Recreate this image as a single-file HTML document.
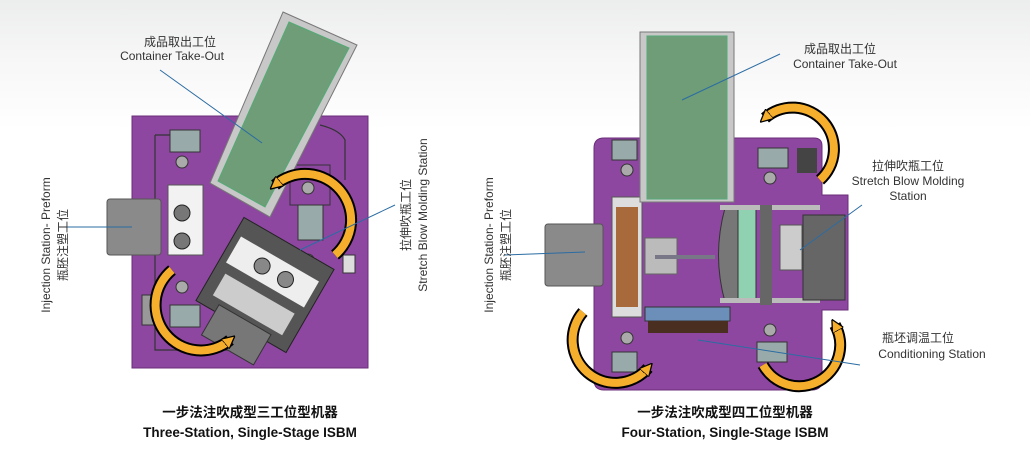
<!DOCTYPE html>
<html><head><meta charset="utf-8"><style>
html,body{margin:0;padding:0}
body{width:1030px;height:471px;overflow:hidden;background:linear-gradient(#eceded 0px,#f7f7f7 60px,#fff 130px,#fff 471px);font-family:"Liberation Sans","Noto Sans CJK SC",sans-serif}
svg{position:absolute;left:0;top:0}
</style></head><body>
<svg width="1030" height="471" viewBox="0 0 1030 471" font-family="Liberation Sans, Noto Sans CJK SC, sans-serif">
<defs>
<marker id="ah" viewBox="0 0 10 10" refX="5" refY="5" markerWidth="1.6" markerHeight="1.6" orient="auto"><path d="M0,0 L10,5 L0,10 z" fill="#f6ae2d" stroke="#000" stroke-width="1"/></marker>
</defs>
<!-- LEFT MACHINE -->
<rect x="132" y="116" width="236" height="252" fill="#8e47a0" stroke="#6a2e7a"/>
<path d="M155,135 H200 M320,125 Q340,130 345,140 V180 M155,135 V350 H235" fill="none" stroke="#333" stroke-width="1.2"/>
<rect x="290" y="165" width="40" height="40" fill="none" stroke="#333"/>
<rect x="170" y="130" width="30" height="22" fill="#9aa" stroke="#333"/>
<rect x="298" y="205" width="25" height="35" fill="#9aa" stroke="#333"/>
<rect x="170" y="305" width="30" height="22" fill="#9aa" stroke="#333"/>
<rect x="142" y="295" width="12" height="30" fill="#999" stroke="#333"/>
<rect x="343" y="255" width="12" height="18" fill="#ddd" stroke="#333"/>
<circle cx="182" cy="162" r="6" fill="#aaa" stroke="#333"/>
<circle cx="308" cy="188" r="6" fill="#aaa" stroke="#333"/>
<circle cx="308" cy="260" r="6" fill="#aaa" stroke="#333"/>
<circle cx="182" cy="287" r="6" fill="#aaa" stroke="#333"/>
<rect x="168" y="185" width="35" height="70" fill="#f2f2f2" stroke="#555"/>
<circle cx="182" cy="213" r="8" fill="#777" stroke="#222"/>
<circle cx="182" cy="241" r="8" fill="#777" stroke="#222"/>
<rect x="107" y="199" width="54" height="56" rx="3" fill="#8a8a8a" stroke="#555"/>
<!-- rotated press -->
<g transform="translate(265,285) rotate(30)">
<rect x="-52" y="-48" width="104" height="96" fill="#555" stroke="#222"/>
<rect x="-45" y="-30" width="90" height="30" fill="#eee"/>
<circle cx="-12" cy="-15" r="8" fill="#888" stroke="#222"/>
<circle cx="15" cy="-15" r="8" fill="#888" stroke="#222"/>
<rect x="-40" y="10" width="80" height="25" fill="#ccc"/>
<rect x="-30" y="40" width="60" height="35" fill="#777" stroke="#333"/>
</g>
<!-- conveyor -->
<polygon points="283,12 357,45 270,217 210,183" fill="#c8c8c8" stroke="#777"/>
<polygon points="289,22 349,48 265,207 218,181" fill="#6e9d77" stroke="#5a7"/>
<!-- arrows -->
<g fill="none" stroke-linecap="butt">
<path d="M335,255 A38,38 0 0 0 275,185" stroke="#000" stroke-width="12"/>
<path d="M335,255 A38,38 0 0 0 275,185" stroke="#f6ae2d" stroke-width="8" marker-end="url(#ah)"/>
<path d="M172,270 A45,45 0 0 0 230,340" stroke="#000" stroke-width="12"/>
<path d="M172,270 A45,45 0 0 0 230,340" stroke="#f6ae2d" stroke-width="8" marker-end="url(#ah)"/>
</g>
<!-- leader lines -->
<g stroke="#2b6ca3" stroke-width="1">
<line x1="160" y1="70" x2="262" y2="143"/>
<line x1="65" y1="227" x2="132" y2="227"/>
<line x1="395" y1="205" x2="300" y2="250"/>
</g>
<!-- RIGHT MACHINE -->
<path d="M604,138 H814 Q822,138 822,146 V195 H848 V310 H822 V380 Q822,390 812,390 H604 Q594,390 594,380 V148 Q594,138 604,138 Z" fill="#8e47a0" stroke="#6a2e7a"/>
<rect x="612" y="140" width="25" height="20" fill="#9aa" stroke="#333"/>
<rect x="758" y="148" width="30" height="20" fill="#9aa" stroke="#333"/>
<rect x="797" y="148" width="20" height="25" fill="#444"/>
<rect x="612" y="352" width="25" height="20" fill="#9aa" stroke="#333"/>
<rect x="757" y="342" width="30" height="20" fill="#9aa" stroke="#333"/>
<circle cx="627" cy="170" r="6" fill="#aaa" stroke="#333"/>
<circle cx="770" cy="178" r="6" fill="#aaa" stroke="#333"/>
<circle cx="627" cy="338" r="6" fill="#aaa" stroke="#333"/>
<circle cx="770" cy="330" r="6" fill="#aaa" stroke="#333"/>
<rect x="612" y="197" width="30" height="120" fill="#ddd" stroke="#555"/>
<rect x="616" y="207" width="22" height="100" fill="#a86a3a"/>
<rect x="645" y="238" width="32" height="36" fill="#bbb" stroke="#666"/>
<line x1="655" y1="257" x2="715" y2="257" stroke="#778" stroke-width="4"/>
<rect x="645" y="307" width="85" height="14" fill="#6b8fb8" stroke="#333"/>
<rect x="648" y="321" width="80" height="12" fill="#4a2f20"/>
<path d="M725,208 Q712,255 725,302 H742 V208 Z" fill="#777" stroke="#333"/>
<rect x="738" y="208" width="18" height="92" fill="#8fd1b0" stroke="#333"/>
<rect x="720" y="205" width="100" height="5" fill="#bbb"/>
<rect x="720" y="298" width="100" height="5" fill="#bbb"/>
<rect x="760" y="205" width="12" height="100" fill="#666"/>
<rect x="780" y="225" width="22" height="45" fill="#ccc" stroke="#555"/>
<rect x="803" y="215" width="42" height="85" fill="#666" stroke="#333"/>
<rect x="545" y="224" width="58" height="62" rx="3" fill="#8a8a8a" stroke="#555"/>
<!-- conveyor -->
<rect x="640" y="32" width="94" height="170" fill="#c8c8c8" stroke="#777"/>
<rect x="647" y="36" width="80" height="163" fill="#6e9d77" stroke="#5a7"/>
<!-- arrows -->
<g fill="none">
<path d="M820,180 A33,33 0 0 0 765,118" stroke="#000" stroke-width="12"/>
<path d="M820,180 A33,33 0 0 0 765,118" stroke="#f6ae2d" stroke-width="8" marker-end="url(#ah)"/>
<path d="M583,312 A40,40 0 0 0 648,368" stroke="#000" stroke-width="12"/>
<path d="M583,312 A40,40 0 0 0 648,368" stroke="#f6ae2d" stroke-width="8" marker-end="url(#ah)"/>
<path d="M763,365 A38,38 0 0 0 835,325" stroke="#000" stroke-width="12"/>
<path d="M763,365 A38,38 0 0 0 835,325" stroke="#f6ae2d" stroke-width="8" marker-end="url(#ah)"/>
</g>
<g stroke="#2b6ca3" stroke-width="1">
<line x1="780" y1="54" x2="682" y2="100"/>
<line x1="505" y1="255" x2="585" y2="252"/>
<line x1="862" y1="205" x2="800" y2="250"/>
<line x1="698" y1="340" x2="860" y2="365"/>
</g>
<!-- texts -->
<g font-size="12" fill="#333" text-anchor="middle">
<text x="180" y="46">成品取出工位</text>
<text x="172" y="60">Container Take-Out</text>
<text x="840" y="53">成品取出工位</text>
<text x="845" y="68">Container Take-Out</text>
<text x="908" y="170">拉伸吹瓶工位</text>
<text x="908" y="185">Stretch Blow Molding</text>
<text x="908" y="200">Station</text>
<text x="918" y="342">瓶坯调温工位</text>
<text x="932" y="358">Conditioning Station</text>
<g transform="translate(50,245) rotate(-90)"><text>Injection Station- Preform</text></g>
<g transform="translate(67,245) rotate(-90)"><text>瓶胚注塑工位</text></g>
<g transform="translate(410,215) rotate(-90)"><text>拉伸吹瓶工位</text></g>
<g transform="translate(427,215) rotate(-90)"><text>Stretch Blow Molding Station</text></g>
<g transform="translate(493,245) rotate(-90)"><text>Injection Station- Preform</text></g>
<g transform="translate(510,245) rotate(-90)"><text>瓶胚注塑工位</text></g>
</g>
<g font-size="13.5" font-weight="bold" fill="#111" text-anchor="middle">
<text x="250" y="417">一步法注吹成型三工位型机器</text>
<text x="250" y="437">Three-Station, Single-Stage ISBM</text>
<text x="725" y="417">一步法注吹成型四工位型机器</text>
<text x="725" y="437">Four-Station, Single-Stage ISBM</text>
</g>
</svg>
</body></html>
